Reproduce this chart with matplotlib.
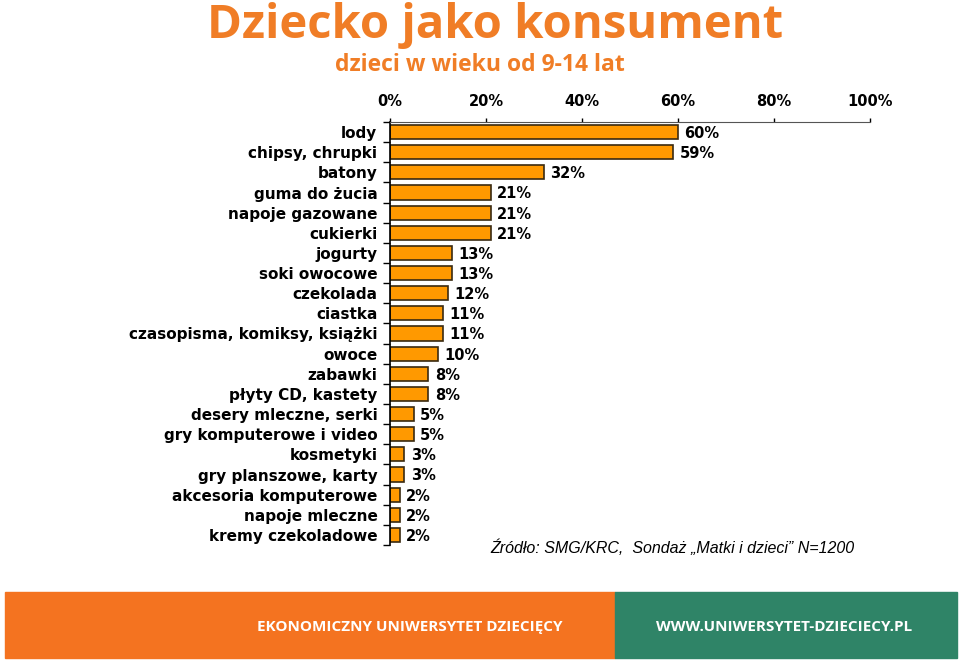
import matplotlib
matplotlib.use("Agg")
import matplotlib.pyplot as plt
from matplotlib.patches import Rectangle
from matplotlib.ticker import FixedLocator, PercentFormatter


KATEGORIE = [
    "lody", "chipsy, chrupki", "batony", "guma do żucia", "napoje gazowane",
    "cukierki", "jogurty", "soki owocowe", "czekolada", "ciastka",
    "czasopisma, komiksy, książki", "owoce", "zabawki", "płyty CD, kastety",
    "desery mleczne, serki", "gry komputerowe i video", "kosmetyki",
    "gry planszowe, karty", "akcesoria komputerowe", "napoje mleczne",
    "kremy czekoladowe",
]
WARTOSCI = [60, 59, 32, 21, 21, 21, 13, 13, 12, 11, 11, 10, 8, 8, 5, 5, 3, 3, 2, 2, 2]
OSI_X = [0, 20, 40, 60, 80, 100]

POMARANCZ = "#FF9900"
TYTUL = "#F07D26"
STOPKA_POM = "#F47320"
STOPKA_ZIE = "#2F8467"
FONT_OS = "DejaVu Sans"


def main():
    fig = plt.figure(figsize=(9.6, 6.61), dpi=100)
    W, H = 960, 661

    ax = fig.add_axes([390 / W, 1 - 545 / H, 480 / W, 423 / H])
    y = list(range(len(KATEGORIE)))
    ax.barh(y, WARTOSCI, height=0.7, color=POMARANCZ, edgecolor="#3a2a10", linewidth=1.2)

    for yi, v in zip(y, WARTOSCI):
        ax.annotate(f"{v}%", (v, yi), xytext=(4.5, -1), textcoords="offset points",
                    va="center", ha="left", fontsize=10.5, fontweight="bold",
                    family=FONT_OS, color="black")

    ax.set_xlim(0, 100)
    ax.set_ylim(len(KATEGORIE) - 0.5, -0.5)

    ax.xaxis.tick_top()
    ax.set_xticks(OSI_X)
    ax.xaxis.set_major_formatter(PercentFormatter(decimals=0))
    ax.tick_params(axis="x", direction="out", length=3, width=1, pad=6,
                   labelsize=10.5)
    for t in ax.get_xticklabels():
        t.set_fontweight("bold")
        t.set_family(FONT_OS)

    ax.set_yticks(y)
    ax.set_yticklabels(KATEGORIE)
    ax.tick_params(axis="y", which="major", length=0, pad=9, labelsize=11)
    ax.yaxis.set_minor_locator(FixedLocator([i - 0.5 for i in range(len(KATEGORIE) + 1)]))
    ax.tick_params(axis="y", which="minor", direction="out", length=5, width=1)
    for t in ax.get_yticklabels():
        t.set_fontweight("bold")
        t.set_family(FONT_OS)

    for s in ["right", "bottom"]:
        ax.spines[s].set_visible(False)
    ax.spines["top"].set_color("#555555")
    ax.spines["left"].set_color("black")
    ax.spines["left"].set_linewidth(1.2)

    # tytul
    fig.text(495 / W, 1 - 38 / H, "Dziecko jako konsument", ha="center", va="baseline",
             fontsize=34, fontweight="bold", family="Open Sans", color=TYTUL)
    fig.text(480 / W, 1 - 71 / H, "dzieci w wieku od 9-14 lat", ha="center", va="baseline",
             fontsize=16.5, fontweight="bold", family="Open Sans", color=TYTUL)

    # zrodlo
    fig.text(490 / W, 1 - 548 / H, "Źródło: SMG/KRC,  Sondaż „Matki i dzieci” N=1200",
             ha="left", va="center", fontsize=11.5, style="italic",
             family="Liberation Sans", color="black")

    # stopka
    fig.patches.append(Rectangle((5 / W, 1 - 658 / H), 610 / W, 66 / H,
                                 transform=fig.transFigure, color=STOPKA_POM, zorder=0))
    fig.patches.append(Rectangle((615 / W, 1 - 658 / H), 342 / W, 66 / H,
                                 transform=fig.transFigure, color=STOPKA_ZIE, zorder=0))
    fig.text(410 / W, 1 - 627 / H, "EKONOMICZNY UNIWERSYTET DZIECIĘCY", ha="center",
             va="center", fontsize=11, fontweight="bold", family="Open Sans", color="white")
    fig.text(784 / W, 1 - 627 / H, "WWW.UNIWERSYTET-DZIECIECY.PL", ha="center",
             va="center", fontsize=11, fontweight="bold", family="Open Sans", color="white")

    fig.savefig("out.png", dpi=100)
    plt.close(fig)


if __name__ == "__main__":
    main()
